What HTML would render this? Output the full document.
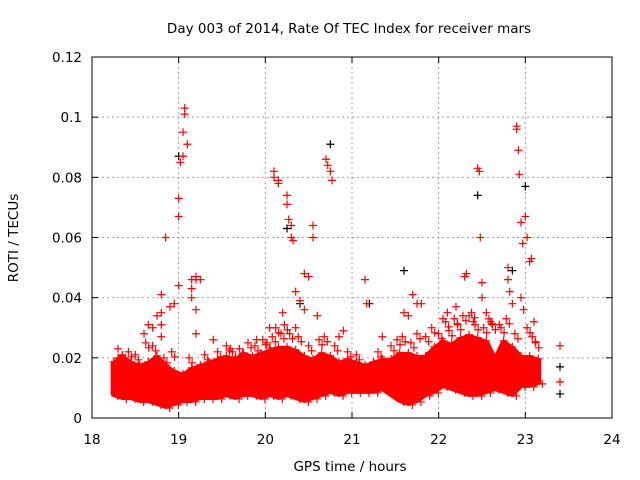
<!DOCTYPE html>
<html><head><meta charset="utf-8"><style>
body{margin:0;background:#fff}
svg{display:block;font-family:"DejaVu Sans","Liberation Sans",sans-serif}
</style></head><body>
<svg id="chart" width="640" height="480" xmlns="http://www.w3.org/2000/svg">
<rect width="640" height="480" fill="#fff"/>
<text x="349" y="33" font-size="13.5" text-anchor="middle">Day 003 of 2014, Rate Of TEC Index for receiver mars</text>
<text x="18" y="238" font-size="13.5" text-anchor="middle" transform="rotate(-90 18 238)">ROTI / TECUs</text>
<text x="350" y="471" font-size="13.5" text-anchor="middle">GPS time / hours</text>
<g id="grid"></g><g id="band"></g><g id="pts"></g><g id="axes"></g>
</svg>
<script>
const xTicks=[18,19,20,21,22,23,24];
const yTicks=[0,0.02,0.04,0.06,0.08,0.1,0.12];
const yTickLabels=["0","0.02","0.04","0.06","0.08","0.1","0.12"];
const bandTimes=[18.25,18.35,18.45,18.55,18.65,18.75,18.85,18.95,19.05,19.15,19.25,19.35,19.45,19.55,19.65,19.75,19.85,19.95,20.05,20.15,20.25,20.35,20.45,20.55,20.65,20.75,20.85,20.95,21.05,21.15,21.25,21.35,21.45,21.55,21.65,21.75,21.85,21.95,22.05,22.15,22.25,22.35,22.45,22.55,22.65,22.75,22.85,22.95,23.05,23.15];
const bandLow=[0.008,0.007,0.007,0.006,0.006,0.005,0.004,0.005,0.006,0.006,0.007,0.007,0.007,0.008,0.007,0.008,0.008,0.007,0.008,0.007,0.008,0.007,0.006,0.007,0.008,0.009,0.008,0.009,0.009,0.009,0.009,0.010,0.008,0.006,0.005,0.006,0.008,0.009,0.011,0.010,0.009,0.008,0.008,0.009,0.010,0.009,0.008,0.011,0.011,0.012];
const bandHigh=[0.018,0.020,0.018,0.017,0.018,0.020,0.017,0.015,0.014,0.016,0.017,0.018,0.019,0.020,0.019,0.021,0.020,0.021,0.022,0.023,0.023,0.022,0.020,0.019,0.021,0.020,0.018,0.019,0.018,0.017,0.018,0.019,0.019,0.021,0.021,0.020,0.020,0.023,0.025,0.024,0.026,0.027,0.026,0.025,0.019,0.025,0.023,0.020,0.020,0.019];
const midX=[18.3,18.42,18.5,18.62,18.7,18.83,18.92,19.12,19.3,19.45,19.55,19.62,19.7,19.8,19.88,19.97,20.02,20.08,20.12,20.18,20.22,20.28,20.38,20.5,20.62,20.68,20.8,20.95,21.05,21.3,21.45,21.52,21.58,21.68,21.75,21.85,21.92,22.0,22.08,22.12,22.18,22.22,22.28,22.38,22.42,22.52,22.58,22.62,22.72,22.78,22.88,23.02,23.08,23.12];
const midY=[0.02,0.022,0.021,0.025,0.024,0.02,0.022,0.02,0.021,0.022,0.024,0.022,0.023,0.025,0.024,0.026,0.025,0.027,0.03,0.028,0.031,0.028,0.027,0.024,0.026,0.027,0.024,0.022,0.021,0.022,0.024,0.026,0.027,0.025,0.028,0.027,0.03,0.028,0.032,0.029,0.033,0.031,0.034,0.035,0.031,0.03,0.033,0.031,0.03,0.033,0.028,0.03,0.027,0.025];
const redX=[18.3,18.35,18.6,18.65,18.7,18.75,18.8,18.8,18.8,18.8,18.85,18.9,18.95,19.0,19.0,19.0,19.02,19.05,19.05,19.07,19.07,19.1,19.15,19.15,19.15,19.2,19.2,19.2,19.2,19.25,19.4,19.6,19.9,20.05,20.1,20.1,20.15,20.15,20.2,20.25,20.25,20.27,20.3,20.3,20.32,20.35,20.35,20.4,20.45,20.45,20.5,20.55,20.55,20.6,20.7,20.72,20.75,20.77,20.85,20.9,21.15,21.17,21.35,21.6,21.65,21.7,21.75,21.8,22.05,22.1,22.2,22.3,22.32,22.35,22.4,22.45,22.47,22.48,22.5,22.5,22.55,22.6,22.7,22.8,22.8,22.82,22.85,22.9,22.9,22.92,22.93,22.95,22.95,22.97,22.98,23.0,23.02,23.05,23.07,23.1,23.4,23.4];
const redY=[0.023,0.021,0.028,0.031,0.03,0.034,0.041,0.035,0.031,0.027,0.06,0.037,0.038,0.044,0.067,0.073,0.085,0.095,0.087,0.103,0.101,0.091,0.046,0.043,0.04,0.047,0.046,0.036,0.028,0.046,0.026,0.023,0.026,0.03,0.08,0.082,0.078,0.079,0.035,0.074,0.071,0.066,0.064,0.06,0.059,0.042,0.03,0.039,0.048,0.036,0.047,0.064,0.06,0.034,0.086,0.084,0.082,0.079,0.027,0.029,0.046,0.038,0.027,0.035,0.034,0.041,0.038,0.038,0.033,0.035,0.037,0.047,0.048,0.034,0.032,0.083,0.082,0.06,0.045,0.04,0.035,0.032,0.031,0.05,0.046,0.042,0.038,0.097,0.096,0.089,0.081,0.065,0.04,0.058,0.036,0.067,0.06,0.052,0.053,0.032,0.024,0.012];
const blackX=[19.0,20.25,20.75,20.4,21.6,21.2,22.45,22.85,23.0,23.4,23.4];
const blackY=[0.087,0.063,0.091,0.038,0.049,0.038,0.074,0.049,0.077,0.017,0.008];
const L=92,R=612,T=57,B=418;
const sx=v=>L+(v-18)/6*(R-L), sy=v=>B-v/0.12*(B-T);
const NS="http://www.w3.org/2000/svg";
function mk(tag,attrs,parent){const e=document.createElementNS(NS,tag);for(const k in attrs)e.setAttribute(k,attrs[k]);document.getElementById(parent).appendChild(e);return e;}
xTicks.forEach((t,i)=>{const x=sx(t);
 if(i>0&&i<xTicks.length-1){const g=mk('line',{x1:x,x2:x,y1:T,y2:B,stroke:'#a0a0a0','stroke-dasharray':'2,3'},'grid');}
 const a=mk('line',{x1:x,x2:x,y1:B,y2:B-6,stroke:'#000'},'axes');
 const b=mk('line',{x1:x,x2:x,y1:T,y2:T+6,stroke:'#000'},'axes');
 const tx=mk('text',{x:x,y:444,'font-size':13.5,'text-anchor':'middle'},'axes');tx.textContent=t;});
yTicks.forEach((t,i)=>{const y=sy(t);
 if(i>0&&i<yTicks.length-1){const g=mk('line',{x1:L,x2:R,y1:y,y2:y,stroke:'#a0a0a0','stroke-dasharray':'2,3'},'grid');}
 const a=mk('line',{x1:L,x2:L+6,y1:y,y2:y,stroke:'#000'},'axes');
 const b=mk('line',{x1:R,x2:R-6,y1:y,y2:y,stroke:'#000'},'axes');
 const tx=mk('text',{x:L-10,y:y+5,'font-size':13.5,'text-anchor':'end'},'axes');tx.textContent=yTickLabels[i];});
const fr=mk('rect',{x:L,y:T,width:R-L,height:B-T,fill:'none',stroke:'#000'},'axes');


let d='';bandTimes.forEach((t,i)=>{d+=(i?'L':'M')+sx(t)+','+sy(bandHigh[i]);});
for(let i=bandTimes.length-1;i>=0;i--)d+='L'+sx(bandTimes[i])+','+sy(bandLow[i]);
const band=mk('path',{d:d+'Z',fill:'#ff0000',stroke:'#ff0000','stroke-width':6,'stroke-linejoin':'round'},'band');


function cross(x,y,c,name){const p=mk('path',{d:`M${x-4},${y}h8M${x},${y-4}v8`,stroke:c,'stroke-width':1.2,fill:'none'},'pts');}
bandTimes.forEach((t,i)=>{cross(sx(t),sy(bandHigh[i])-2,'#ff0000','band-point');cross(sx(t)+4,sy(bandLow[i])+2,'#ff0000','band-point');});
midX.forEach((t,i)=>{cross(sx(t),sy(midY[i]),'#ff0000','mid-point');cross(sx(t)+3,sy(midY[i])+5,'#ff0000','mid-point');});
blackX.forEach((t,i)=>cross(sx(t),sy(blackY[i]),'#000','point-black'));
redX.forEach((t,i)=>cross(sx(t),sy(redY[i]),'#ff0000','point-red'));
</script>
</body></html>
